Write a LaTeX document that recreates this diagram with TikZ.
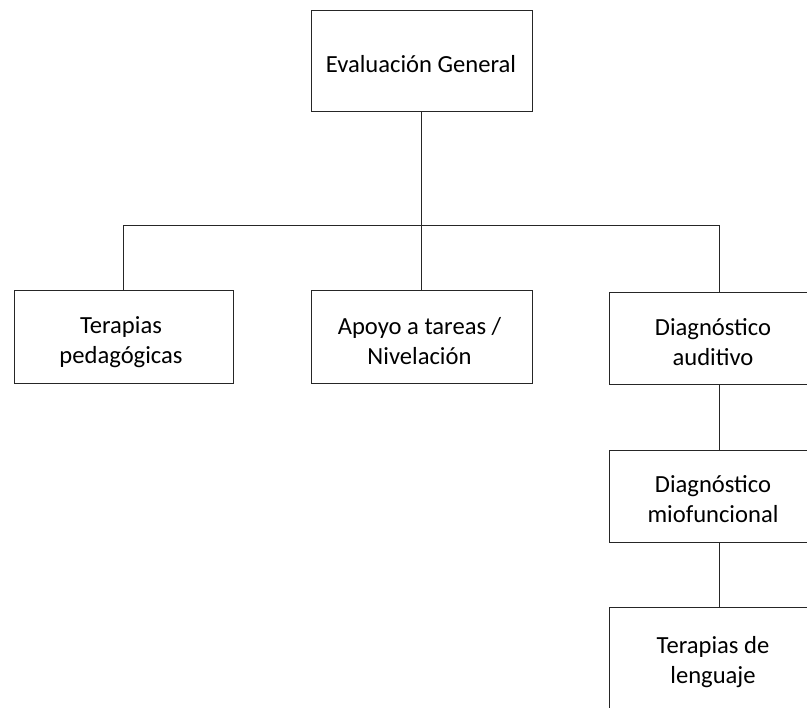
\documentclass[tikz,border=0pt]{standalone}
\usepackage{fontspec}
\setmainfont{Carlito}
\begin{document}
\begin{tikzpicture}[x=1pt,y=-1pt,
  boxnode/.style={draw=black!85, line width=0.9pt, inner sep=0pt},
  labelnode/.style={align=center, inner sep=0pt, font=\fontsize{24.6}{30}\selectfont},
  link/.style={draw=black!85, line width=0.9pt}]
\useasboundingbox (0,0) rectangle (807,708);
\begin{scope}
\clip (0,0) rectangle (807,708);
\node[boxnode, minimum width=221pt, minimum height=101pt] (top) at (421.5,60.5) {};
\node[boxnode, minimum width=219pt, minimum height=93pt] (ter) at (123.5,336.5) {};
\node[boxnode, minimum width=221pt, minimum height=93pt] (apo) at (421.5,336.5) {};
\node[boxnode, minimum width=220pt, minimum height=92pt] (aud) at (719,338) {};
\node[boxnode, minimum width=220pt, minimum height=92pt] (mio) at (719,496) {};
\node[boxnode, minimum width=220pt, minimum height=104pt] (len) at (719,659) {};
\node[labelnode] (toptxt) at (421,64) {Evaluación General};
\node[labelnode] (tertxt) at (121,342.5) {Terapias\\pedagógicas};
\node[labelnode] (apotxt) at (419.5,341.5) {Apoyo a tareas /\\Nivelación};
\node[labelnode] (audtxt) at (713,342) {Diagnóstico\\auditivo};
\node[labelnode] (miotxt) at (713,499) {Diagnóstico\\miofuncional};
\node[labelnode] (lentxt) at (713,662.5) {Terapias de\\lenguaje};
\coordinate (bus) at (421.5,225);
\draw[link] (top.south) -- (apo.north);
\draw[link] (ter.north) -- (ter.north |- bus) -- (aud.north |- bus) -- (aud.north);
\draw[link] (aud.south) -- (mio.north);
\draw[link] (mio.south) -- (len.north);
\end{scope}
\end{tikzpicture}
\end{document}
